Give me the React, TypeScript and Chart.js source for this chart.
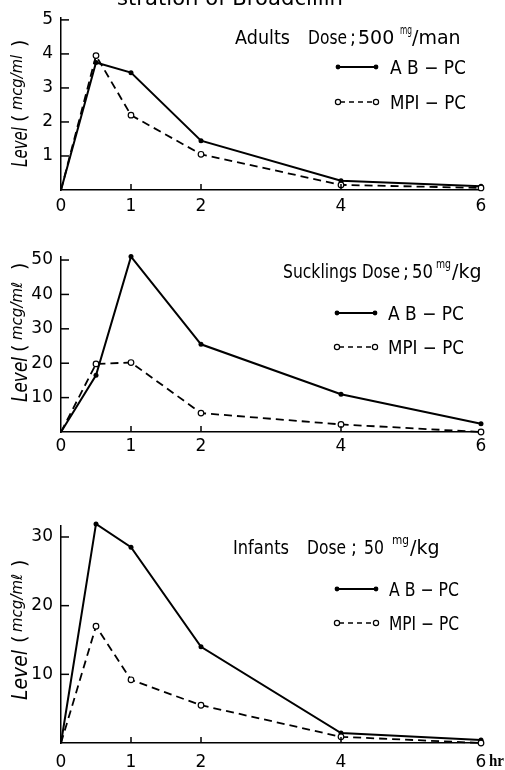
import React, { useEffect, useRef } from "react";
import { Chart, registerables } from "chart.js";
Chart.register(...registerables);

// ---------- data ----------
const HOURS = [0, 0.5, 1, 2, 4, 6];
const X_TICKS = [0, 1, 2, 4, 6];
const X_TICK_LABELS = ["0", "1", "2", "4", "6"];

const ADULT_AB = [0, 3.75, 3.45, 1.45, 0.27, 0.11];
const ADULT_MPI = [0, 3.95, 2.2, 1.05, 0.15, 0.06];
const ADULT_Y_TICKS = [1, 2, 3, 4, 5];

const SUCK_AB = [0, 16.5, 51, 25.5, 11, 2.4];
const SUCK_MPI = [0, 19.8, 20.2, 5.5, 2.2, 0];
const SUCK_Y_TICKS = [10, 20, 30, 40, 50];

const INF_AB = [0, 31.9, 28.5, 14, 1.45, 0.45];
const INF_MPI = [0, 17, 9.2, 5.5, 0.9, 0];
const INF_Y_TICKS = [10, 20, 30];

const SERIES_AB = "A B − PC";
const SERIES_MPI = "MPI − PC";

const FONT = '"DejaVu Sans", sans-serif';

type TitlePart = { t: string; x: number; y: number; size: number; w: number };
type Panel = {
  key: string;
  top: number;
  height: number;
  yMax: number;
  padTop: number;
  xAxisH: number;
  xPad: number;
  yTicks: number[];
  ab: number[];
  mpi: number[];
  title: TitlePart[];
  legAbY: number;
  legMpiY: number;
  legX1: number;
  legX2: number;
  legTextX: number;
  legW: number;
  yt: { x: number; start: number; levelLen: number; open: number; unitStart: number; unitLen: number; close: number; unit: string };
  hr?: boolean;
  topTitle?: boolean;
};

const PANELS: Panel[] = [
  {
    key: "adults",
    top: 0,
    height: 225,
    yMax: 5.05,
    padTop: 13.5,
    xAxisH: 35,
    xPad: 6,
    yTicks: ADULT_Y_TICKS,
    ab: ADULT_AB,
    mpi: ADULT_MPI,
    title: [
      { t: "Adults", x: 235, y: 44, size: 19, w: 55 },
      { t: "Dose", x: 308, y: 44, size: 19, w: 39 },
      { t: ";", x: 350, y: 44, size: 19, w: 6 },
      { t: "500", x: 358, y: 44, size: 19, w: 39 },
      { t: "mg", x: 400, y: 34, size: 12, w: 12 },
      { t: "/man", x: 412, y: 44, size: 19, w: 50 },
    ],
    legAbY: 67,
    legMpiY: 102,
    legX1: 338,
    legX2: 376,
    legTextX: 390,
    legW: 76,
    yt: { x: 27, start: 167, levelLen: 40, open: 45, unitStart: 57, unitLen: 55, close: 120, unit: "mcg/ml" },
    topTitle: true,
  },
  {
    key: "sucklings",
    top: 225,
    height: 245,
    yMax: 51,
    padTop: 31.6,
    xAxisH: 38,
    xPad: 4,
    yTicks: SUCK_Y_TICKS,
    ab: SUCK_AB,
    mpi: SUCK_MPI,
    title: [
      { t: "Sucklings", x: 283, y: 278, size: 19, w: 74 },
      { t: "Dose", x: 362, y: 278, size: 19, w: 38 },
      { t: ";", x: 403, y: 278, size: 19, w: 6 },
      { t: "50", x: 412, y: 278, size: 19, w: 21 },
      { t: "mg", x: 436, y: 268, size: 12, w: 15 },
      { t: "/kg", x: 452, y: 278, size: 19, w: 36 },
    ],
    legAbY: 313,
    legMpiY: 347,
    legX1: 337,
    legX2: 375,
    legTextX: 388,
    legW: 76,
    yt: { x: 27, start: 402, levelLen: 45, open: 50, unitStart: 62, unitLen: 67, close: 132, unit: "mcg/mℓ" },
  },
  {
    key: "infants",
    top: 470,
    height: 300,
    yMax: 31.6,
    padTop: 56,
    xAxisH: 27,
    xPad: 9,
    yTicks: INF_Y_TICKS,
    ab: INF_AB,
    mpi: INF_MPI,
    title: [
      { t: "Infants", x: 233, y: 554, size: 19, w: 56 },
      { t: "Dose", x: 307, y: 554, size: 19, w: 39 },
      { t: ";", x: 351, y: 554, size: 19, w: 6 },
      { t: "50", x: 364, y: 554, size: 19, w: 20 },
      { t: "mg", x: 392, y: 544, size: 12, w: 17 },
      { t: "/kg", x: 410, y: 554, size: 19, w: 36 },
    ],
    legAbY: 589,
    legMpiY: 623,
    legX1: 337,
    legX2: 376,
    legTextX: 389,
    legW: 70,
    yt: { x: 27, start: 700, levelLen: 50, open: 57, unitStart: 68, unitLen: 64, close: 133, unit: "mcg/mℓ" },
    hr: true,
  },
];

function makePlugin(p: Panel) {
  return {
    id: "decor_" + p.key,
    afterDraw(chart: any) {
      const ctx: CanvasRenderingContext2D = chart.ctx;
      const xs = chart.scales.x;
      const ys = chart.scales.y;
      ctx.save();
      ctx.strokeStyle = "#000";
      ctx.fillStyle = "#000";
      ctx.lineWidth = 1.5;
      // inward y ticks
      p.yTicks.forEach((v) => {
        const y = ys.getPixelForValue(v);
        ctx.beginPath();
        ctx.moveTo(xs.left, y);
        ctx.lineTo(xs.left + 8, y);
        ctx.stroke();
      });
      // inward x ticks
      [1, 2, 4].forEach((v) => {
        const x = xs.getPixelForValue(v);
        ctx.beginPath();
        ctx.moveTo(x, ys.bottom);
        ctx.lineTo(x, ys.bottom - 6);
        ctx.stroke();
      });

      // page coordinates from here
      ctx.translate(0, -p.top);
      ctx.textBaseline = "alphabetic";
      ctx.textAlign = "left";

      if (p.topTitle) {
        ctx.font = `22px ${FONT}`;
        ctx.fillText("stration of Broadcillin", 117, 5, 226);
      }

      // dose title
      p.title.forEach((part) => {
        ctx.font = `${part.size}px ${FONT}`;
        ctx.fillText(part.t, part.x, part.y, part.w);
      });

      // legend rows
      const row = (y: number, dashed: boolean, label: string) => {
        ctx.save();
        ctx.lineWidth = dashed ? 1.5 : 2;
        ctx.setLineDash(dashed ? [5, 4] : []);
        ctx.beginPath();
        ctx.moveTo(p.legX1 + 2, y);
        ctx.lineTo(p.legX2 - 2, y);
        ctx.stroke();
        ctx.setLineDash([]);
        [p.legX1, p.legX2].forEach((x) => {
          ctx.beginPath();
          ctx.arc(x, y, dashed ? 2.6 : 2.4, 0, Math.PI * 2);
          if (dashed) {
            ctx.fillStyle = "#fff";
            ctx.fill();
            ctx.lineWidth = 1.2;
            ctx.stroke();
          } else {
            ctx.fillStyle = "#000";
            ctx.fill();
          }
        });
        ctx.restore();
        ctx.font = `19px ${FONT}`;
        ctx.fillText(label, p.legTextX, y + 7, p.legW);
      };
      row(p.legAbY, false, SERIES_AB);
      row(p.legMpiY, true, SERIES_MPI);

      // y axis title (rotated)
      const yt = p.yt;
      ctx.save();
      ctx.translate(yt.x, yt.start);
      ctx.rotate(-Math.PI / 2);
      ctx.font = `italic 21px ${FONT}`;
      ctx.fillText("Level", 0, 0, yt.levelLen);
      ctx.font = `19px ${FONT}`;
      ctx.fillText("(", yt.open, -1, 8);
      ctx.font = `italic 15px ${FONT}`;
      ctx.fillText(yt.unit, yt.unitStart, -5, yt.unitLen);
      ctx.font = `19px ${FONT}`;
      ctx.fillText(")", yt.close, -1, 8);
      ctx.restore();

      if (p.hr) {
        ctx.font = 'bold 16px "Liberation Serif", serif';
        ctx.fillText("hr", 489, 766, 15);
      }
      ctx.restore();
    },
  };
}

function PanelChart({ p }: { p: Panel }) {
  const ref = useRef<HTMLCanvasElement | null>(null);
  useEffect(() => {
    if (!ref.current) return;
    const pts = (r: number) => HOURS.map((_, i) => (i === 0 ? 0 : r));
    const chart = new Chart(ref.current, {
      type: "line",
      data: {
        datasets: [
          {
            label: SERIES_MPI,
            data: HOURS.map((h, i) => ({ x: h, y: p.mpi[i] })),
            borderColor: "#000",
            borderWidth: 1.8,
            borderDash: [8, 5],
            pointRadius: pts(2.8),
            pointBackgroundColor: "#fff",
            pointBorderColor: "#000",
            pointBorderWidth: 1.2,
            tension: 0,
            clip: false as any,
          },
          {
            label: SERIES_AB,
            data: HOURS.map((h, i) => ({ x: h, y: p.ab[i] })),
            borderColor: "#000",
            borderWidth: 2,
            pointRadius: pts(2.5),
            pointBackgroundColor: "#000",
            pointBorderColor: "#000",
            pointBorderWidth: 0,
            tension: 0,
            clip: false as any,
          },
        ],
      },
      options: {
        animation: false,
        responsive: false,
        devicePixelRatio: 1,
        layout: { padding: { top: p.padTop, right: 24, left: 0, bottom: 0 } },
        plugins: { legend: { display: false }, tooltip: { enabled: false } },
        scales: {
          x: {
            type: "linear",
            min: 0,
            max: 6,
            grid: { display: false, drawTicks: false },
            border: { display: true, color: "#000", width: 1.5 },
            afterBuildTicks: (s: any) => {
              s.ticks = X_TICKS.map((v) => ({ value: v }));
            },
            afterFit: (s: any) => {
              s.height = p.xAxisH;
            },
            ticks: {
              padding: p.xPad,
              color: "#000",
              font: { family: FONT, size: 17 },
              maxRotation: 0,
              autoSkip: false,
              callback: (v: any) => {
                const i = X_TICKS.indexOf(Number(v));
                return i >= 0 ? X_TICK_LABELS[i] : "";
              },
            },
          },
          y: {
            type: "linear",
            min: 0,
            max: p.yMax,
            grid: { display: false, drawTicks: false },
            border: { display: true, color: "#000", width: 1.5 },
            afterBuildTicks: (s: any) => {
              s.ticks = p.yTicks.map((v) => ({ value: v }));
            },
            afterFit: (s: any) => {
              s.width = 61;
            },
            ticks: {
              padding: 8,
              color: "#000",
              font: { family: FONT, size: 17 },
              autoSkip: false,
              callback: (v: any) => String(v),
            },
          },
        },
      },
      plugins: [makePlugin(p)],
    });
    return () => chart.destroy();
  }, []);
  return (
    <canvas
      ref={ref}
      width={505}
      height={p.height}
      style={{ position: "absolute", left: 0, top: p.top, width: 505, height: p.height, display: "block" }}
    />
  );
}

export default function App() {
  return (
    <div style={{ position: "absolute", left: 0, top: 0, width: 505, height: 770, background: "#fff", overflow: "hidden" }}>
      {PANELS.map((p) => (
        <PanelChart key={p.key} p={p} />
      ))}
    </div>
  );
}
